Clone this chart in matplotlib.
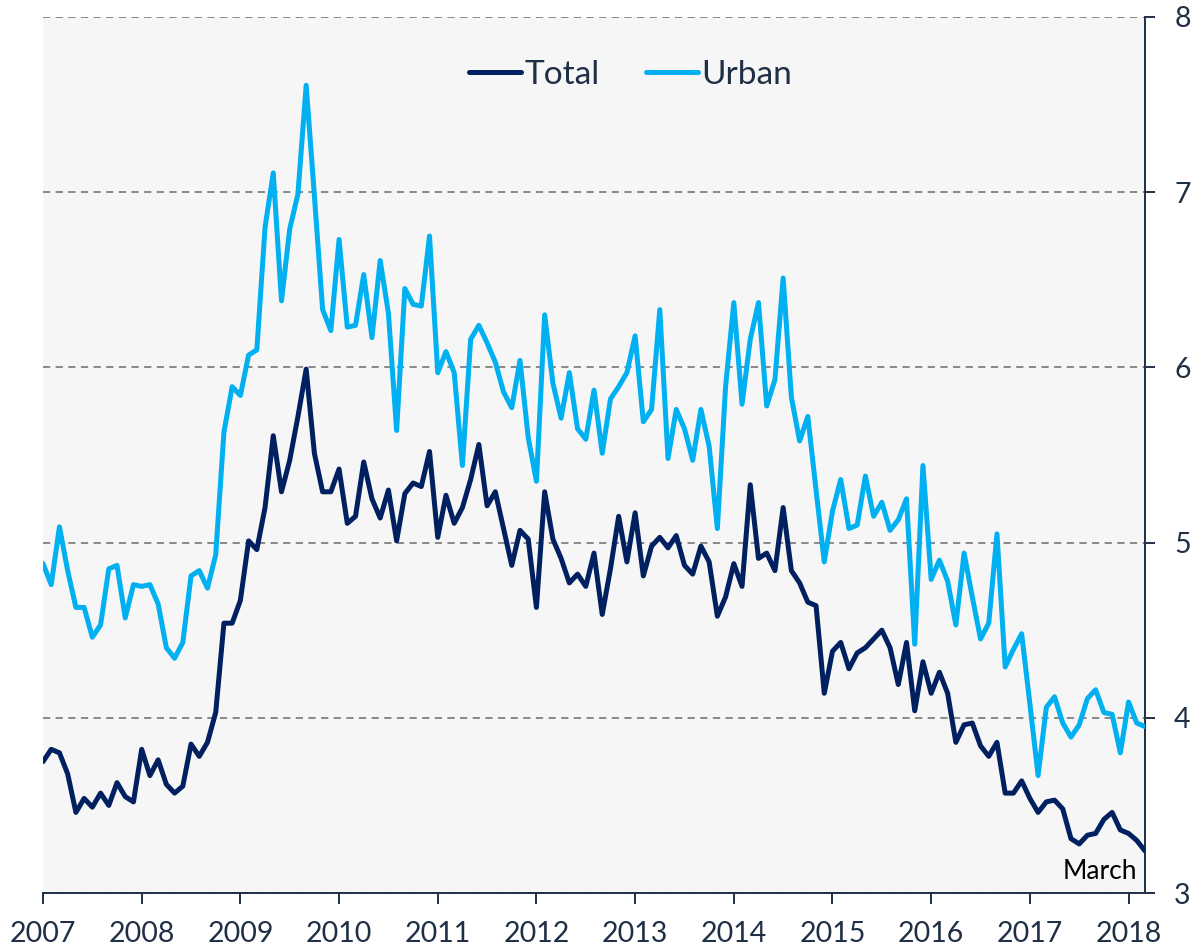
import numpy as np
import matplotlib
matplotlib.use("Agg")
import matplotlib.pyplot as plt

# Monthly data, Jan 2007 .. Mar 2018
start_year = 2007
total = [
    3.75, 3.82, 3.80, 3.68, 3.46, 3.54, 3.49, 3.57, 3.50, 3.63, 3.55, 3.52,
    3.82, 3.67, 3.76, 3.62, 3.57, 3.61, 3.85, 3.78, 3.86, 4.03, 4.54, 4.54,
    4.67, 5.01, 4.96, 5.20, 5.61, 5.29, 5.47, 5.72, 5.99, 5.51, 5.29, 5.29,
    5.42, 5.11, 5.15, 5.46, 5.25, 5.14, 5.30, 5.01, 5.28, 5.34, 5.32, 5.52,
    5.03, 5.27, 5.11, 5.20, 5.36, 5.56, 5.21, 5.29, 5.08, 4.87, 5.07, 5.02,
    4.63, 5.29, 5.02, 4.91, 4.77, 4.82, 4.75, 4.94, 4.59, 4.85, 5.15, 4.89,
    5.17, 4.81, 4.98, 5.03, 4.97, 5.04, 4.87, 4.82, 4.98, 4.89, 4.58, 4.69,
    4.88, 4.75, 5.33, 4.91, 4.94, 4.84, 5.20, 4.84, 4.77, 4.66, 4.64, 4.14,
    4.38, 4.43, 4.28, 4.37, 4.40, 4.45, 4.50, 4.40, 4.19, 4.43, 4.04, 4.32,
    4.14, 4.26, 4.14, 3.86, 3.96, 3.97, 3.84, 3.78, 3.86, 3.57, 3.57, 3.64,
    3.54, 3.46, 3.52, 3.53, 3.48, 3.31, 3.28, 3.33, 3.34, 3.42, 3.46, 3.36,
    3.34, 3.30, 3.24,
]
urban = [
    4.88, 4.76, 5.09, 4.84, 4.63, 4.63, 4.46, 4.53, 4.85, 4.87, 4.57, 4.76,
    4.75, 4.76, 4.65, 4.40, 4.34, 4.43, 4.81, 4.84, 4.74, 4.93, 5.63, 5.89,
    5.84, 6.07, 6.10, 6.80, 7.11, 6.38, 6.79, 6.99, 7.61, 6.98, 6.33, 6.21,
    6.73, 6.23, 6.24, 6.53, 6.17, 6.61, 6.31, 5.64, 6.45, 6.36, 6.35, 6.75,
    5.97, 6.09, 5.97, 5.44, 6.16, 6.24, 6.14, 6.03, 5.86, 5.77, 6.04, 5.60,
    5.35, 6.30, 5.91, 5.71, 5.97, 5.65, 5.59, 5.87, 5.51, 5.82, 5.89, 5.97,
    6.18, 5.69, 5.76, 6.33, 5.48, 5.76, 5.65, 5.47, 5.76, 5.55, 5.08, 5.89,
    6.37, 5.79, 6.16, 6.37, 5.78, 5.93, 6.51, 5.83, 5.58, 5.72, 5.30, 4.89,
    5.18, 5.36, 5.08, 5.10, 5.38, 5.15, 5.23, 5.07, 5.13, 5.25, 4.42, 5.44,
    4.79, 4.90, 4.78, 4.53, 4.94, 4.69, 4.45, 4.54, 5.05, 4.29, 4.39, 4.48,
    4.08, 3.67, 4.06, 4.12, 3.97, 3.89, 3.96, 4.11, 4.16, 4.03, 4.02, 3.80,
    4.09, 3.97, 3.95,
]
years = list(range(2007, 2019))
y_ticks = [3, 4, 5, 6, 7, 8]

x = start_year + np.arange(len(total)) / 12.0

# colours / style
col_total = '#002060'
col_urban = '#00b0f0'
col_text = '#1f2f45'
font = 'Lato'

fig = plt.figure(figsize=(11.94, 9.51), dpi=100)
fig.set_facecolor('white')
ax = fig.add_axes([43/1194, 58/951, (1145-43)/1194, (893-17)/951])
ax.set_facecolor('#f6f6f6')

ax.plot(x, total, color=col_total, lw=3.6, label='Total',
        solid_joinstyle='round', solid_capstyle='round', zorder=3)
ax.plot(x, urban, color=col_urban, lw=3.6, label='Urban',
        solid_joinstyle='round', solid_capstyle='round', zorder=3)

ax.set_xlim(start_year, x[-1])
ax.set_ylim(3, 8)
ax.set_xticks(years)
ax.set_yticks(y_ticks)
ax.yaxis.tick_right()
ax.grid(axis='y', color='#808080', linestyle=(0, (4, 3)), linewidth=1.3, zorder=1)
ax.grid(axis='x', visible=False)

for s in ['left', 'top']:
    ax.spines[s].set_visible(False)
for s in ['bottom', 'right']:
    ax.spines[s].set_color(col_text)
    ax.spines[s].set_linewidth(1.4)

ax.tick_params(axis='x', direction='out', length=8, width=1.4, color=col_text,
               labelsize=20.5, labelcolor=col_text, pad=12)
ax.tick_params(axis='y', direction='out', length=7, width=1.4, color=col_text,
               labelsize=20.5, labelcolor=col_text, pad=14)
for lab in ax.get_xticklabels() + ax.get_yticklabels():
    lab.set_fontfamily(font)

ax.text(0.993, 0.01, 'March', transform=ax.transAxes, ha='right', va='bottom',
        fontsize=19, color='black', family=font)

leg = ax.legend(loc='upper center', bbox_to_anchor=(0.533, 0.985), ncol=2,
                frameon=False, handlelength=1.55, handletextpad=0.1,
                columnspacing=1.4, prop={'family': font, 'size': 24})
for t in leg.get_texts():
    t.set_color(col_text)

fig.savefig('out.png', dpi=100)
